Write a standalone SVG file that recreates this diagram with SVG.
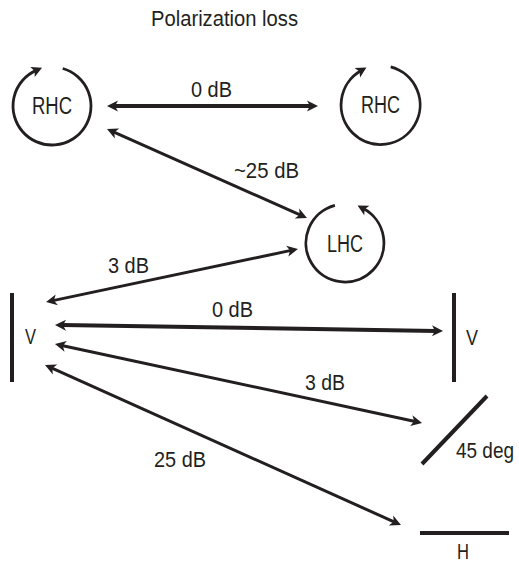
<svg xmlns="http://www.w3.org/2000/svg" width="519" height="563" viewBox="0 0 519 563">
<style>
  text { font-family: "Liberation Sans", Arial, sans-serif; font-size: 22px; fill: #231f20; }
  .node-label { font-size: 23px; }
  .ring { fill: none; stroke: #231f20; stroke-width: 2.8; }
  .bar { stroke: #231f20; stroke-width: 4; stroke-linecap: butt; }
  .conn { fill: none; stroke: #231f20; stroke-width: 3; }
  .conn.thick { stroke-width: 4; }
</style>
<defs>
  <marker id="ah" markerUnits="userSpaceOnUse" viewBox="-5 -6 13 12" markerWidth="13" markerHeight="12" refX="0" refY="0" orient="auto-start-reverse" overflow="visible">
    <path d="M7,0 L-4,-5.5 L-1,0 L-4,5.5 Z" fill="#231f20"/>
  </marker>
  <marker id="ahs" markerUnits="userSpaceOnUse" viewBox="-5 -6 13 12" markerWidth="13" markerHeight="12" refX="0" refY="0" orient="auto" overflow="visible">
    <path d="M6.5,0 L-4,-5.5 L-1.5,0 L-4,5.5 Z" fill="#231f20"/>
  </marker>
</defs>
<rect width="519" height="563" fill="#ffffff"/>

<text id="title" x="151" y="26" textLength="147" lengthAdjust="spacingAndGlyphs">Polarization loss</text>

<g id="rhc-left">
  <path class="ring" d="M62.7,68.5 A39,39 0 1 1 36.1,70.4" marker-end="url(#ahs)"/>
  <text class="node-label" x="32" y="114" textLength="40" lengthAdjust="spacingAndGlyphs">RHC</text>
</g>
<g id="rhc-right">
  <path class="ring" d="M390.7,66.8 A39.5,39.5 0 1 1 360.8,70.8" marker-end="url(#ahs)"/>
  <text class="node-label" x="361" y="113" textLength="39" lengthAdjust="spacingAndGlyphs">RHC</text>
</g>
<g id="lhc">
  <path class="ring" d="M334.9,205.3 A39,39 0 1 0 363.3,208.6" marker-end="url(#ahs)"/>
  <text class="node-label" x="327" y="252" textLength="36" lengthAdjust="spacingAndGlyphs">LHC</text>
</g>
<g id="v-left">
  <line class="bar" x1="12" y1="293" x2="12" y2="382"/>
  <text x="25" y="344" textLength="11" lengthAdjust="spacingAndGlyphs">V</text>
</g>
<g id="v-right">
  <line class="bar" x1="454" y1="293" x2="454" y2="382"/>
  <text x="466" y="345" textLength="12" lengthAdjust="spacingAndGlyphs">V</text>
</g>
<g id="deg45">
  <line class="bar" x1="422" y1="464" x2="487" y2="396" stroke-width="3.5"/>
  <text x="456" y="458" textLength="58" lengthAdjust="spacingAndGlyphs">45 deg</text>
</g>
<g id="h">
  <line class="bar" x1="420" y1="533" x2="509" y2="533"/>
  <text x="457" y="559" textLength="12" lengthAdjust="spacingAndGlyphs">H</text>
</g>

<g id="connectors">
  <line class="conn thick" x1="114" y1="106" x2="311" y2="106" marker-start="url(#ah)" marker-end="url(#ah)"/>
  <line class="conn" x1="113.4" y1="131.8" x2="300.6" y2="215.2" marker-start="url(#ah)" marker-end="url(#ah)"/>
  <line class="conn" x1="52.9" y1="300.6" x2="291.1" y2="250.4" marker-start="url(#ah)" marker-end="url(#ah)"/>
  <line class="conn thick" x1="62" y1="325.1" x2="436" y2="330.9" marker-start="url(#ah)" marker-end="url(#ah)"/>
  <line class="conn" x1="61.8" y1="345.5" x2="415.2" y2="421.5" marker-start="url(#ah)" marker-end="url(#ah)"/>
  <line class="conn" x1="51.4" y1="367.9" x2="394.6" y2="522.1" marker-start="url(#ah)" marker-end="url(#ah)"/>
  <text x="191" y="97" textLength="41" lengthAdjust="spacingAndGlyphs">0 dB</text>
  <text x="234" y="178" textLength="65" lengthAdjust="spacingAndGlyphs">~25 dB</text>
  <text x="108" y="273" textLength="41" lengthAdjust="spacingAndGlyphs">3 dB</text>
  <text x="212" y="317" textLength="41" lengthAdjust="spacingAndGlyphs">0 dB</text>
  <text x="305" y="390" textLength="40" lengthAdjust="spacingAndGlyphs">3 dB</text>
  <text x="154" y="467" textLength="52" lengthAdjust="spacingAndGlyphs">25 dB</text>
</g>
</svg>
